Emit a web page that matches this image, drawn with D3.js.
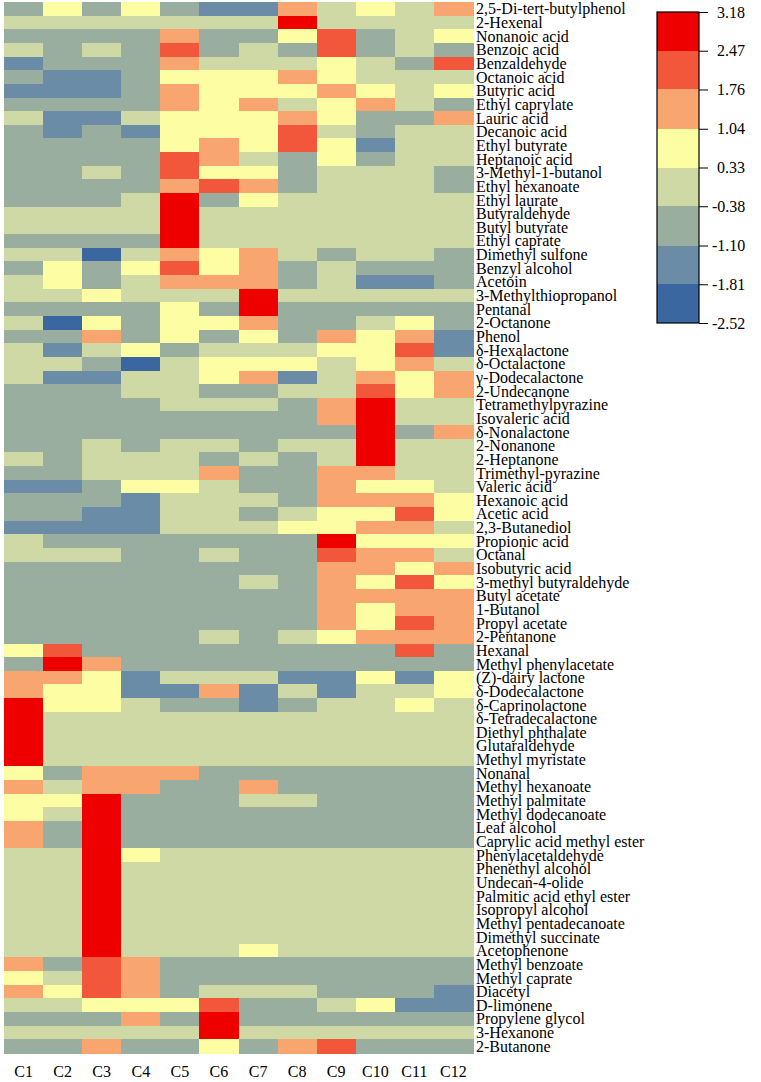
<!DOCTYPE html>
<html>
<head>
<meta charset="utf-8">
<script src="https://cdn.jsdelivr.net/npm/d3@7"></script>
<style>
  html, body { margin: 0; padding: 0; background: #ffffff; }
  svg { display: block; }
  text { font-family: "Liberation Serif", "Times New Roman", serif; fill: #000; }
</style>
</head>
<body>
<svg id="chart" width="761" height="1082"></svg>
<script>
const samples = ["C1","C2","C3","C4","C5","C6","C7","C8","C9","C10","C11","C12"];

const compounds = [
  "2,5-Di-tert-butylphenol","2-Hexenal","Nonanoic acid","Benzoic acid","Benzaldehyde",
  "Octanoic acid","Butyric acid","Ethyl caprylate","Lauric acid","Decanoic acid",
  "Ethyl butyrate","Heptanoic acid","3-Methyl-1-butanol","Ethyl  hexanoate","Ethyl laurate",
  "Butyraldehyde","Butyl butyrate","Ethyl caprate","Dimethyl sulfone","Benzyl alcohol",
  "Acetoin","3-Methylthiopropanol","Pentanal","2-Octanone","Phenol",
  "δ-Hexalactone","δ-Octalactone","γ-Dodecalactone","2-Undecanone","Tetramethylpyrazine",
  "Isovaleric acid","δ-Nonalactone","2-Nonanone","2-Heptanone","Trimethyl-pyrazine",
  "Valeric acid","Hexanoic acid","Acetic acid","2,3-Butanediol","Propionic acid",
  "Octanal","Isobutyric acid","3-methyl butyraldehyde","Butyl acetate","1-Butanol",
  "Propyl acetate","2-Pentanone","Hexanal","Methyl phenylacetate","(Z)-dairy lactone",
  "δ-Dodecalactone","δ-Caprinolactone","δ-Tetradecalactone","Diethyl phthalate","Glutaraldehyde",
  "Methyl myristate","Nonanal","Methyl hexanoate","Methyl palmitate","Methyl dodecanoate",
  "Leaf alcohol","Caprylic acid methyl ester","Phenylacetaldehyde","Phenethyl alcohol","Undecan-4-olide",
  "Palmitic acid ethyl ester","Isopropyl alcohol","Methyl pentadecanoate","Dimethyl succinate","Acetophenone",
  "Methyl benzoate","Methyl caprate","Diacetyl","D-limonene","Propylene glycol",
  "3-Hexanone","2-Butanone"
];

// z-scores (one row per compound, columns C1..C12)
const values = [
  [-0.7,0.7,-0.7,0.7,-0.7,-1.45,-1.45,1.4,0,0.7,0,1.4],
  [0,0,0,0,0,0,0,2.8,0,0,0,0],
  [-0.7,-0.7,-0.7,-0.7,1.4,-0.7,-0.7,0.7,2.1,-0.7,0,0.7],
  [0,-0.7,0,-0.7,2.1,-0.7,0,-0.7,2.1,-0.7,0,-0.7],
  [-1.45,-0.7,-0.7,-0.7,1.4,0,0,0,0.7,0,-0.7,2.1],
  [-0.7,-1.45,-1.45,-0.7,0.7,0.7,0.7,1.4,0.7,0,0,0],
  [-1.45,-1.45,-1.45,-0.7,1.4,0.7,0.7,0.7,1.4,0.7,0,0.7],
  [-0.7,-0.7,-0.7,-0.7,1.4,0.7,1.4,0,0.7,1.4,0,-0.7],
  [0,-1.45,-1.45,0,0.7,0.7,0.7,1.4,0.7,-0.7,-0.7,1.4],
  [-0.7,-1.45,-0.7,-1.45,0.7,0.7,0.7,2.1,0,-0.7,0,0],
  [-0.7,-0.7,-0.7,-0.7,0.7,1.4,0.7,2.1,0.7,-1.45,0,0],
  [-0.7,-0.7,-0.7,-0.7,2.1,1.4,0,-0.7,0.7,-0.7,0,0],
  [-0.7,-0.7,0,-0.7,2.1,0.7,0.7,-0.7,0,0,0,-0.7],
  [-0.7,-0.7,-0.7,-0.7,1.4,2.1,1.4,-0.7,0,0,0,-0.7],
  [-0.7,-0.7,-0.7,0,2.8,-0.7,0.7,0,0,0,0,0],
  [0,0,0,0,2.8,0,0,0,0,0,0,0],
  [0,0,0,0,2.8,0,0,0,0,0,0,0],
  [-0.7,-0.7,-0.7,-0.7,2.8,0,0,0,0,0,0,0],
  [0,0,-2.2,0,1.4,0.7,1.4,0,-0.7,0,0,-0.7],
  [-0.7,0.7,-0.7,0.7,2.1,0.7,1.4,-0.7,0,-0.7,-0.7,-0.7],
  [0,0.7,-0.7,0,1.4,1.4,1.4,-0.7,0,-1.45,-1.45,-0.7],
  [0,0,0.7,0,0,0,2.8,0,0,0,0,0],
  [-0.7,-0.7,-0.7,-0.7,0.7,-0.7,2.8,-0.7,-0.7,-0.7,-0.7,-0.7],
  [0,-2.2,0.7,-0.7,0.7,0.7,1.4,-0.7,-0.7,0,0.7,-0.7],
  [-0.7,-0.7,1.4,-0.7,0.7,-0.7,0.7,-0.7,1.4,0.7,1.4,-1.45],
  [0,-1.45,0,0.7,-0.7,0,0,0,0.7,0.7,2.1,-1.45],
  [0,0,-0.7,-2.2,0,0.7,0.7,0.7,0,0.7,1.4,0],
  [0,-1.45,-1.45,0,0,0.7,1.4,-1.45,0,1.4,0.7,1.4],
  [-0.7,-0.7,-0.7,0,0,-0.7,-0.7,0,0,2.1,0.7,1.4],
  [-0.7,-0.7,-0.7,-0.7,0,0,0,-0.7,1.4,2.8,0,0],
  [-0.7,-0.7,-0.7,-0.7,-0.7,-0.7,-0.7,-0.7,1.4,2.8,0,0],
  [-0.7,-0.7,-0.7,-0.7,-0.7,-0.7,-0.7,-0.7,-0.7,2.8,-0.7,1.4],
  [-0.7,-0.7,0,-0.7,0,0,-0.7,0,0,2.8,0,0],
  [0,-0.7,0,0,0,-0.7,0,-0.7,0,2.8,0,0],
  [-0.7,-0.7,0,0,0,1.4,-0.7,-0.7,1.4,1.4,0,0],
  [-1.45,-1.45,-0.7,0.7,0.7,0,-0.7,-0.7,1.4,0.7,0.7,0],
  [-0.7,-0.7,-0.7,-1.45,0,0,0,-0.7,1.4,1.4,1.4,0.7],
  [-0.7,-0.7,-1.45,-1.45,0,0,-0.7,0,0.7,0.7,2.1,0.7],
  [-1.45,-1.45,-1.45,-1.45,0,0,0,0.7,0.7,1.4,1.4,0],
  [0,-0.7,-0.7,-0.7,-0.7,-0.7,-0.7,-0.7,2.8,0.7,0.7,0.7],
  [0,0,0,-0.7,-0.7,0,-0.7,-0.7,2.1,1.4,1.4,0],
  [-0.7,-0.7,-0.7,-0.7,-0.7,-0.7,-0.7,-0.7,1.4,1.4,0.7,1.4],
  [-0.7,-0.7,-0.7,-0.7,-0.7,-0.7,0,-0.7,1.4,0.7,2.1,0.7],
  [-0.7,-0.7,-0.7,-0.7,-0.7,-0.7,-0.7,-0.7,1.4,1.4,1.4,1.4],
  [-0.7,-0.7,-0.7,-0.7,-0.7,-0.7,-0.7,-0.7,1.4,0.7,1.4,1.4],
  [-0.7,-0.7,-0.7,-0.7,-0.7,-0.7,-0.7,-0.7,1.4,0.7,2.1,1.4],
  [-0.7,-0.7,-0.7,-0.7,-0.7,0,-0.7,0,0.7,1.4,1.4,1.4],
  [0.7,2.1,-0.7,-0.7,-0.7,-0.7,-0.7,-0.7,-0.7,-0.7,2.1,-0.7],
  [-0.7,2.8,1.4,-0.7,-0.7,-0.7,-0.7,-0.7,-0.7,-0.7,-0.7,-0.7],
  [1.4,1.4,0.7,-1.45,0,0,0,-1.45,-1.45,0.7,-1.45,0.7],
  [1.4,0.7,0.7,-1.45,-1.45,1.4,-1.45,0,-1.45,0,0,0.7],
  [2.8,0.7,0.7,0,-0.7,-0.7,-1.45,-0.7,0,0,0.7,0],
  [2.8,0,0,0,0,0,0,0,0,0,0,0],
  [2.8,0,0,0,0,0,0,0,0,0,0,0],
  [2.8,0,0,0,0,0,0,0,0,0,0,0],
  [2.8,0,0,0,0,0,0,0,0,0,0,0],
  [0.7,-0.7,1.4,1.4,1.4,-0.7,-0.7,-0.7,-0.7,-0.7,-0.7,-0.7],
  [1.4,0,1.4,1.4,-0.7,-0.7,1.4,-0.7,-0.7,-0.7,-0.7,-0.7],
  [0.7,0.7,2.8,-0.7,-0.7,-0.7,0,0,-0.7,-0.7,-0.7,-0.7],
  [0.7,0,2.8,-0.7,-0.7,-0.7,-0.7,-0.7,-0.7,-0.7,-0.7,-0.7],
  [1.4,-0.7,2.8,-0.7,-0.7,-0.7,-0.7,-0.7,-0.7,-0.7,-0.7,-0.7],
  [1.4,-0.7,2.8,-0.7,-0.7,-0.7,-0.7,-0.7,-0.7,-0.7,-0.7,-0.7],
  [0,0,2.8,0.7,0,0,0,0,0,0,0,0],
  [0,0,2.8,0,0,0,0,0,0,0,0,0],
  [0,0,2.8,0,0,0,0,0,0,0,0,0],
  [0,0,2.8,0,0,0,0,0,0,0,0,0],
  [0,0,2.8,0,0,0,0,0,0,0,0,0],
  [0,0,2.8,0,0,0,0,0,0,0,0,0],
  [0,0,2.8,0,0,0,0,0,0,0,0,0],
  [0,0,2.8,0,0,0,0.7,0,0,0,0,0],
  [1.4,-0.7,2.1,1.4,-0.7,-0.7,-0.7,-0.7,-0.7,-0.7,-0.7,-0.7],
  [0.7,0,2.1,1.4,-0.7,-0.7,-0.7,-0.7,-0.7,-0.7,-0.7,-0.7],
  [1.4,0.7,2.1,1.4,-0.7,0,0,0,-0.7,-0.7,-0.7,-1.45],
  [0,0,0.7,0.7,0.7,2.1,-0.7,-0.7,0,0.7,-1.45,-1.45],
  [-0.7,-0.7,-0.7,1.4,-0.7,2.8,-0.7,-0.7,-0.7,-0.7,-0.7,-0.7],
  [0,0,0,0,0,2.8,0,0,0,0,0,0],
  [-0.7,-0.7,1.4,-0.7,-0.7,0.7,-0.7,1.4,2.1,-0.7,-0.7,-0.7]
];

const legendTicks = [3.18, 2.47, 1.76, 1.04, 0.33, -0.38, -1.10, -1.81, -2.52];
const palette = ["#3b67a1","#6b8ca6","#9aae9f","#cfd9a6","#fdfda3","#f8a56f","#f2573b","#ee0000"];

const svg = d3.select("#chart");

const x = d3.scaleBand().domain(samples).range([4, 473]);
const y = d3.scaleBand().domain(compounds).range([2, 1053]);

const edges = legendTicks.slice().sort((a, b) => a - b); // ascending
const color = d3.scaleThreshold().domain(edges.slice(1, -1)).range(palette);

const cells = [];
compounds.forEach((c, i) => samples.forEach((s, j) => cells.push({ c, s, v: values[i][j] })));

svg.append("g")
  .selectAll("rect")
  .data(cells)
  .join("rect")
  .attr("x", d => x(d.s))
  .attr("y", d => y(d.c))
  .attr("width", x.bandwidth() + 0.5)
  .attr("height", y.bandwidth() + 0.5)
  .attr("fill", d => color(d.v))
  .attr("shape-rendering", "crispEdges");

// row labels
svg.append("g")
  .selectAll("text")
  .data(compounds)
  .join("text")
  .attr("x", 476)
  .attr("y", d => y(d) + y.bandwidth() / 2)
  .attr("dy", "0.35em")
  .style("font-size", "16px")
  .text(d => d);

// column labels
svg.append("g")
  .selectAll("text")
  .data(samples)
  .join("text")
  .attr("x", d => x(d) + x.bandwidth() / 2)
  .attr("y", 1077)
  .attr("text-anchor", "middle")
  .style("font-size", "16px")
  .text(d => d);

// legend
const ly = d3.scaleLinear().domain([edges[0], edges[edges.length - 1]]).range([323, 12]);
const lg = svg.append("g");
lg.selectAll("rect")
  .data(palette)
  .join("rect")
  .attr("x", 657)
  .attr("width", 42)
  .attr("y", (d, i) => ly(edges[i + 1]))
  .attr("height", (d, i) => ly(edges[i]) - ly(edges[i + 1]))
  .attr("fill", d => d)
  .attr("shape-rendering", "crispEdges");
lg.append("rect")
  .attr("x", 657).attr("y", 12).attr("width", 42).attr("height", 311)
  .attr("fill", "none").attr("stroke", "#000").attr("stroke-width", 1.2);

const fmt = d3.format(".2f");
const axis = d3.axisRight(ly)
  .tickValues(legendTicks)
  .tickFormat(d => fmt(d).replace("\u2212", "-"))
  .tickSize(9)
  .tickSizeOuter(0)
  .tickPadding(9);
const ag = lg.append("g").attr("transform", "translate(699,0)").call(axis);
ag.select(".domain").remove();
ag.selectAll("line").attr("stroke", "#000");
ag.selectAll("text")
  .attr("dx", d => (d < 0 ? -5 : 0))
  .style("font-size", "16px")
  .style("font-family", "Liberation Serif, serif");
</script>
</body>
</html>
